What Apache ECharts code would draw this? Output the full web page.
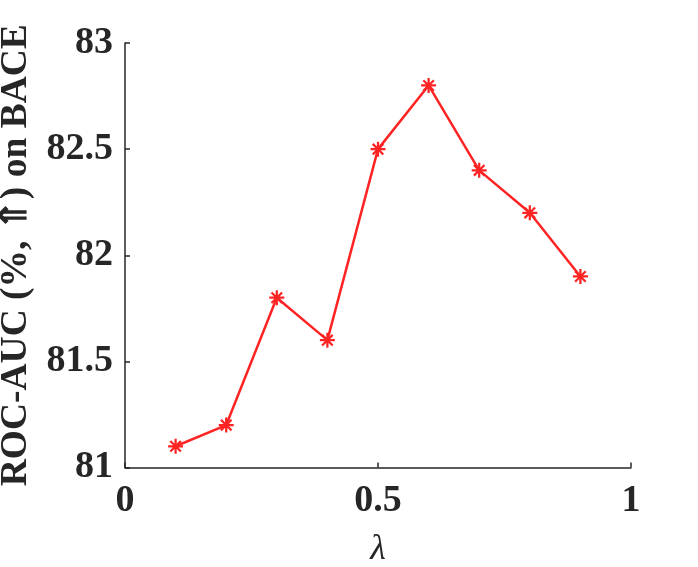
<!DOCTYPE html>
<html>
<head>
<meta charset="utf-8">
<script src="https://cdn.jsdelivr.net/npm/echarts@6/dist/echarts.min.js"></script>
<style>
  html, body { margin: 0; padding: 0; background: #fff; }
  #main { width: 698px; height: 567px; }
</style>
</head>
<body>
<div id="main"></div>
<script>
(function () {
    // lambda values and ROC-AUC scores
    const lambdas = [0.1, 0.2, 0.3, 0.4, 0.5, 0.6, 0.7, 0.8, 0.9];
    const rocAuc = [81.1, 81.2, 81.8, 81.6, 82.5, 82.8, 82.4, 82.2, 81.9];
    const xTicks = [0, 1, 0.5];
    const yTicks = [81, 83, 0.5];

    const serif = "'Liberation Serif', 'Times New Roman', serif";
    const axisColor = '#262626';
    const lineColor = '#ff2424';

    // asterisk marker built from four thin bars
    const asterisk = 'path://M-1.5,-10L1.5,-10L1.5,10L-1.5,10Z' +
        'M-10,-1.5L10,-1.5L10,1.5L-10,1.5Z' +
        'M-8.1,-6L-6,-8.1L8.1,6L6,8.1Z' +
        'M-6,8.1L-8.1,6L6,-8.1L8.1,-6Z';

    var myChart = echarts.init(document.getElementById('main'));
    var option = {
        animation: false,
        backgroundColor: '#fff',
        grid: {
            left: 125,
            right: 67,
            top: 43,
            bottom: 99.5,
            containLabel: false,
            outerBoundsMode: 'none'
        },
        xAxis: {
            type: 'value',
            min: xTicks[0],
            max: xTicks[1],
            interval: xTicks[2],
            name: 'λ',
            nameLocation: 'middle',
            nameGap: 64,
            nameTextStyle: {
                fontFamily: serif,
                fontStyle: 'italic',
                fontSize: 36,
                color: axisColor
            },
            axisLine: { show: true, onZero: false, lineStyle: { color: axisColor, width: 1.5 } },
            axisTick: { show: true, inside: true, length: 5, lineStyle: { color: axisColor, width: 1.5 } },
            splitLine: { show: false },
            axisLabel: {
                margin: 15,
                fontFamily: serif,
                fontWeight: 'bold',
                fontSize: 38,
                color: axisColor
            }
        },
        yAxis: {
            type: 'value',
            min: yTicks[0],
            max: yTicks[1],
            interval: yTicks[2],
            name: 'ROC-AUC (%, ⇑) on BACE',
            nameLocation: 'middle',
            nameGap: 85,
            nameTextStyle: {
                fontFamily: serif,
                fontWeight: 'bold',
                fontSize: 37.5,
                color: axisColor
            },
            axisLine: { show: true, onZero: false, lineStyle: { color: axisColor, width: 1.5 } },
            axisTick: { show: true, inside: true, length: 5, lineStyle: { color: axisColor, width: 1.5 } },
            splitLine: { show: false },
            axisLabel: {
                margin: 12,
                fontFamily: serif,
                fontWeight: 'bold',
                fontSize: 38,
                color: axisColor
            }
        },
        series: [
            {
                type: 'line',
                data: lambdas.map((x, i) => [x, rocAuc[i]]),
                symbol: asterisk,
                symbolSize: 15,
                showAllSymbol: true,
                lineStyle: { color: lineColor, width: 2.5 },
                itemStyle: { color: lineColor }
            }
        ]
    };
    myChart.setOption(option);
}());
</script>
</body>
</html>
